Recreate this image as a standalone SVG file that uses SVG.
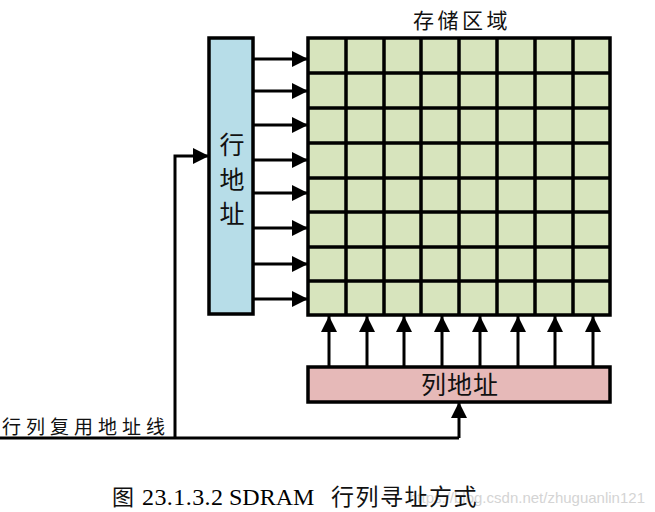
<svg xmlns="http://www.w3.org/2000/svg" width="655" height="512" viewBox="0 0 655 512">
<defs>
<style>
.box{stroke:#000;stroke-width:3.5}
.ln{stroke:#000;stroke-width:3;fill:none}
.cjk{font-family:"Noto Sans CJK SC","Noto Sans CJK JP",sans-serif;fill:#111}
.ser{font-family:"Liberation Serif","Noto Sans CJK SC",serif;fill:#000}
</style>
<marker id="ah" viewBox="0 0 16 16" refX="16" refY="8" markerWidth="16" markerHeight="16" markerUnits="userSpaceOnUse" orient="auto">
<path d="M0,0 L16,8 L0,16 Z" fill="#000"/>
</marker>
</defs>
<rect width="655" height="512" fill="#fff"/>

<g id="storage">
<rect class="box" x="308" y="38" width="302" height="277" fill="#d7e4bd"/>
<path class="box" fill="none" d="M346,38V315M384,38V315M421,38V315M459,38V315M497,38V315M535,38V315M573,38V315M308,73H610M308,108H610M308,143H610M308,178H610M308,212H610M308,247H610M308,281H610"/>
<text class="cjk" x="413" y="28" font-size="21" letter-spacing="3.5">存储区域</text>
</g>

<g id="row-address">
<rect class="box" x="209" y="38" width="44" height="276" fill="#b7dde8"/>
<text class="cjk" x="232" y="154" font-size="25" text-anchor="middle">行</text>
<text class="cjk" x="232" y="189" font-size="25" text-anchor="middle">地</text>
<text class="cjk" x="232" y="223" font-size="25" text-anchor="middle">址</text>
</g>

<g id="col-address">
<rect class="box" x="308" y="367" width="302" height="35" fill="#e6b9b8"/>
<text class="cjk" x="460" y="394" font-size="25" text-anchor="middle" letter-spacing="1">列地址</text>
</g>

<g id="bus-label">
<text class="cjk" x="2" y="434" font-size="19" letter-spacing="5">行列复用地址线</text>
</g>

<g id="connectors">
<path class="ln" marker-end="url(#ah)" d="M253,59H308"/>
<path class="ln" marker-end="url(#ah)" d="M253,91H308"/>
<path class="ln" marker-end="url(#ah)" d="M253,125H308"/>
<path class="ln" marker-end="url(#ah)" d="M253,160H308"/>
<path class="ln" marker-end="url(#ah)" d="M253,193H308"/>
<path class="ln" marker-end="url(#ah)" d="M253,228H308"/>
<path class="ln" marker-end="url(#ah)" d="M253,264H308"/>
<path class="ln" marker-end="url(#ah)" d="M253,299H308"/>
<path class="ln" marker-end="url(#ah)" d="M329,367V316"/>
<path class="ln" marker-end="url(#ah)" d="M367,367V316"/>
<path class="ln" marker-end="url(#ah)" d="M404,367V316"/>
<path class="ln" marker-end="url(#ah)" d="M442,367V316"/>
<path class="ln" marker-end="url(#ah)" d="M480,367V316"/>
<path class="ln" marker-end="url(#ah)" d="M518,367V316"/>
<path class="ln" marker-end="url(#ah)" d="M555,367V316"/>
<path class="ln" marker-end="url(#ah)" d="M593,367V316"/>
<path class="ln" d="M0,438H459"/>
<path class="ln" marker-end="url(#ah)" d="M459,438V402"/>
<path class="ln" marker-end="url(#ah)" d="M175,438V156H209"/>
</g>

<g id="caption">
<text x="645" y="503" font-family="'Liberation Sans',Arial,sans-serif" font-size="15" fill="#d4d4d4" text-anchor="end">https://blog.csdn.net/zhuguanlin121</text>
<text class="cjk" x="112" y="505" font-size="22">图</text>
<text class="ser" x="142" y="505" font-size="24" textLength="81" lengthAdjust="spacing">23.1.3.2</text>
<text class="ser" x="229" y="505" font-size="24">SDRAM</text>
<text class="cjk" x="331" y="505" font-size="23" letter-spacing="1.5">行列寻址方式</text>
</g>
</svg>
